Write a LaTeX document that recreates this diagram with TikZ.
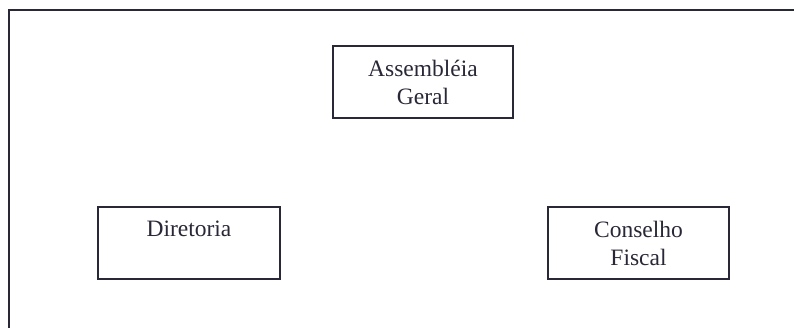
\documentclass[tikz,border=0pt]{standalone}
\usepackage{fontspec}
\setmainfont{Liberation Serif}
\usepackage{tikz}
\usetikzlibrary{positioning}
\definecolor{inkgray}{RGB}{40,40,55}
\tikzset{
  orgbox/.style={
    draw=inkgray,
    line width=1.3pt,
    shape=rectangle,
    minimum width=180pt,
    minimum height=72pt,
    align=center,
    text=inkgray,
    font=\fontsize{23.5}{28}\selectfont
  },
  frameline/.style={
    draw=inkgray,
    line width=2pt
  }
}
\begin{document}
\begin{tikzpicture}[x=1pt,y=-1pt]
  \useasboundingbox (0,0) rectangle (794,328);
  % outer frame: only the left and top edges show
  \coordinate (frameBL) at (9,328);
  \coordinate (frameTL) at (9,10);
  \coordinate (frameTR) at (794,10);
  \draw[frameline] (frameBL) -- (frameTL) -- (frameTR);
  \node[orgbox] (assembleia) at (423,82) {Assembléia\\Geral};
  \node[orgbox,minimum width=182pt] (diretoria) at (189,243) {Diretoria\\~};
  \node[orgbox,minimum width=181pt] (conselho) at (638.5,243) {Conselho\\Fiscal};
\end{tikzpicture}
\end{document}
